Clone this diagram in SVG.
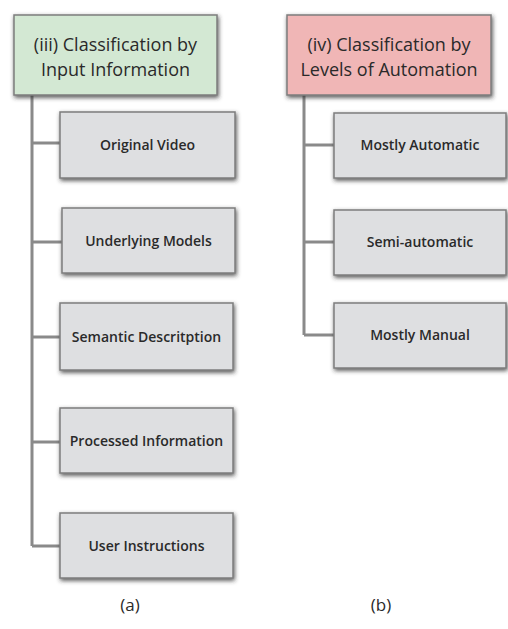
<svg xmlns="http://www.w3.org/2000/svg" width="508" height="629" viewBox="0 0 508 629">
<defs>
<filter id="sh" x="-10%" y="-15%" width="125%" height="140%">
<feDropShadow dx="1" dy="2" stdDeviation="2" flood-color="#333" flood-opacity="0.8"/>
</filter>
<style>
.box{stroke:#7d7d7d;stroke-width:1.5;filter:url(#sh)}
.child{fill:#dedfe1}
.hg{fill:#d3e8d3}
.hp{fill:#f0b6b6}
.t{font-family:"Open Sans","Liberation Sans",Arial,sans-serif;fill:#2a2a2a;text-anchor:middle}
.ht{font-size:18px}
.ct{font-size:14px;font-weight:600}
.lab{font-size:17px}
.con{stroke:#8a8a8a;stroke-width:3;fill:none}
</style>
</defs>
<rect width="508" height="629" fill="#fff"/>
<g id="connectors">
<path class="con" d="M32 95 V546 M32 143 H60 M32 242 H62 M32 337 H60 M32 442 H60 M32 546 H60"/>
<path class="con" d="M304 95 V335 M304 145 H334 M304 242 H334 M304 335 H334"/>
</g>
<g id="headA"><rect class="box hg" x="14" y="15" width="203" height="80"/>
<text class="t ht" x="115.5" y="51">(iii) Classification by</text>
<text class="t ht" x="115.5" y="76">Input Information</text></g>
<g id="n1"><rect class="box child" x="60" y="112" width="175" height="66"/><text class="t ct" x="147.5" y="150">Original Video</text></g>
<g id="n2"><rect class="box child" x="62" y="208" width="173" height="65"/><text class="t ct" x="148.5" y="246">Underlying Models</text></g>
<g id="n3"><rect class="box child" x="60" y="303" width="173" height="67"/><text class="t ct" x="146.5" y="342">Semantic Descritption</text></g>
<g id="n4"><rect class="box child" x="60" y="408" width="173" height="65"/><text class="t ct" x="146.5" y="446">Processed Information</text></g>
<g id="n5"><rect class="box child" x="60" y="513" width="173" height="65"/><text class="t ct" x="146.5" y="551">User Instructions</text></g>
<g id="headB"><rect class="box hp" x="287" y="15" width="204" height="80"/>
<text class="t ht" x="389" y="51">(iv) Classification by</text>
<text class="t ht" x="389" y="76">Levels of Automation</text></g>
<g id="m1"><rect class="box child" x="334" y="113" width="172" height="65"/><text class="t ct" x="420" y="150">Mostly Automatic</text></g>
<g id="m2"><rect class="box child" x="334" y="210" width="172" height="65"/><text class="t ct" x="420" y="247">Semi-automatic</text></g>
<g id="m3"><rect class="box child" x="334" y="303" width="172" height="65"/><text class="t ct" x="420" y="340">Mostly Manual</text></g>
<text class="t lab" x="130" y="611">(a)</text>
<text class="t lab" x="381" y="611">(b)</text>
</svg>
